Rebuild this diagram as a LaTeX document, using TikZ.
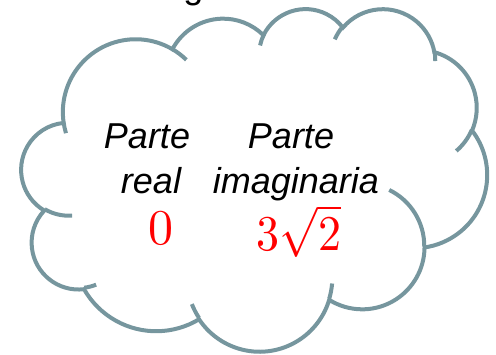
\documentclass[tikz,border=0pt]{standalone}
\usepackage{graphicx}
\usepackage{fontspec}
\setmainfont{Liberation Sans}
\definecolor{cloudgray}{RGB}{118,150,158}
% Cloud outline: preset-shape units divided by 100, mapped onto the page (y grows downward in the raw data)
\def\ox{21.5}\def\oy{346}\def\kx{1.0775}\def\ky{0.7928}
\newcommand\cpt[2]{({\ox+#1*\kx},{\oy-#2*\ky})}
% elliptical arc from the current point; angles are true angles, converted to parametric ones
\newcommand\carc[4]{arc[start angle={-pfix(#1,#2,#3)},end angle={-pfix(#1,#2,#3+#4)},x radius={#1*\kx pt},y radius={#2*\ky pt}]}
\begin{document}
\begin{tikzpicture}[x=1pt,y=1pt,
  declare function={
    pang(\pw,\ph,\pa)=atan2(\pw*sin(\pa),\ph*cos(\pa));
    pfix(\pw,\ph,\pa)=pang(\pw,\ph,\pa)+360*round((\pa-pang(\pw,\ph,\pa))/360);
  },
  cloudstroke/.style={draw=cloudgray,line width=4pt},
  wordtxt/.style={inner sep=0pt,anchor=base,font=\itshape\fontsize{36}{44}\selectfont},
  numtxt/.style={inner sep=0pt,anchor=base,text=red,font=\normalsize}]
\useasboundingbox (0,0) rectangle (496,354);
\clip (0,0) rectangle (496,354);

% outer contour of the cloud
\path[cloudstroke] \cpt{39.00}{143.70}
  \carc{67.53}{91.90}{-190.4874833}{123.7805333}
  \carc{53.33}{72.67}{-144.1023833}{89.9452333}
  \carc{43.65}{59.45}{-145.8079167}{99.7230167}
  \carc{48.57}{65.95}{-130.9860667}{117.2417333}
  \carc{53.33}{72.73}{-78.7088833}{109.0269167}
  \carc{67.75}{92.20}{-46.26725}{130.269}
  \carc{57.85}{78.67}{0.6250167}{114.0333333}
  \carc{67.52}{92.15}{22.4516}{115.17255}
  \carc{77.20}{105.43}{66.2426333}{75.7110167}
  \carc{43.60}{59.18}{-274.9420833}{146.7355667}
  \carc{43.45}{59.45}{-246.8285}{152.51885}
  -- cycle;

% inner arcs where the bumps meet
\path[cloudstroke]
  \cpt{46.93}{261.77} \carc{43.45}{59.45}{86.742}{26.4295}
  \cpt{69.28}{348.99} \carc{43.60}{59.18}{73.6104667}{11.4474667}
  \cpt{164.78}{390.90} \carc{67.52}{92.15}{137.62415}{14.0811}
  \cpt{288.27}{347.51} \carc{67.52}{92.15}{6.4532667}{15.99835}
  \cpt{341.29}{229.54} \carc{57.85}{78.67}{-70.29235}{70.9173667}
  \cpt{417.98}{153.54} \carc{53.33}{72.73}{30.3180333}{27.7515}
  \cpt{383.24}{54.26} \carc{48.57}{65.95}{-13.7443333}{14.8589}
  \cpt{290.78}{39.52} \carc{48.57}{65.95}{-149.18145}{18.1953667}
  \cpt{221.41}{47.20} \carc{43.65}{59.45}{-163.4942667}{17.68635}
  \cpt{140.00}{51.92} \carc{67.53}{91.90}{-66.70695}{12.31935}
  \cpt{41.27}{157.89} \carc{67.53}{91.90}{157.65435}{11.8581667};

% text
\node[inner sep=0pt,anchor=base,font=\fontsize{36}{44}\selectfont] (top) at (193.5,355.6) {g};
\node[wordtxt] (realA) at (147,205) {Parte};
\node[wordtxt] (realB) at (151,160) {real};
\node[wordtxt] (imagA) at (291,205) {Parte};
\node[wordtxt] (imagB) at (296,160) {imaginaria};
\node[numtxt] (realval) at (160.5,109) {\scalebox{5}{$0$}};
\node[numtxt] (imagval) at (299,103.3) {\scalebox{4.6}[5]{$3\sqrt{2}$}};
\end{tikzpicture}
\end{document}
